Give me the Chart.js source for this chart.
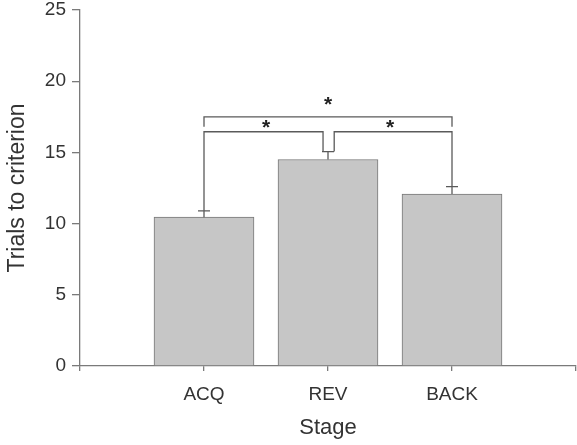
<!DOCTYPE html>
<html>
<head>
<meta charset="utf-8">
<script src="https://cdn.jsdelivr.net/npm/chart.js@4"></script>
<style>
  html, body { margin: 0; padding: 0; background: #fff; }
  #wrap { width: 577px; height: 445px; }
</style>
</head>
<body>
<div id="wrap"><canvas id="stageChart" width="577" height="445"></canvas></div>
<script>
// ── Data ──────────────────────────────────────
const categories = ['ACQ', 'REV', 'BACK'];
const means      = [10.45, 14.5, 12.08];
const sems       = [0.44, 0.56, 0.52];
const yTicks     = [0, 5, 10, 15, 20, 25];

// significance brackets: from/to category position, bar level, leg ends
const brackets = [
  { from: 1,    to: 3,    level: 17.5,  leftEnd: 16.8, rightEnd: 16.8 },
  { from: 1,    to: 1.96, level: 16.45, leftEnd: 'sem', rightEnd: 'sem' },
  { from: 2.05, to: 3,    level: 16.45, leftEnd: 'sem', rightEnd: 'sem' },
];
const stars = [
  { x: 2,   y: 18.55 },
  { x: 1.5, y: 16.95 },
  { x: 2.5, y: 16.95 },
];

// ── Style ─────────────────────────────────────
const AXIS_COLOR = '#7a7a7a';
const TEXT_COLOR = '#333333';
const LINE_COLOR = '#5a5a5a';
const FONT       = "'Liberation Sans', Arial, Helvetica, sans-serif";

// top of error bar for the category nearest to a position
function semTop(pos) {
  const i = Math.round(pos) - 1;
  return means[i] + sems[i];
}

const annotations = {
  id: 'annotations',
  afterDatasetsDraw(chart) {
    const { ctx, scales: { x, y } } = chart;
    ctx.save();
    ctx.strokeStyle = LINE_COLOR;
    ctx.lineWidth = 1.3;

    // error bars
    means.forEach((m, i) => {
      const px  = x.getPixelForValue(i + 1);
      const top = y.getPixelForValue(m + sems[i]);
      ctx.beginPath();
      ctx.moveTo(px, y.getPixelForValue(m));
      ctx.lineTo(px, top);
      ctx.moveTo(px - 6, top);
      ctx.lineTo(px + 6, top);
      ctx.stroke();
    });

    // brackets
    brackets.forEach(b => {
      const x1 = x.getPixelForValue(b.from);
      const x2 = x.getPixelForValue(b.to);
      const yl = y.getPixelForValue(b.level);
      const y1 = y.getPixelForValue(b.leftEnd === 'sem' ? semTop(b.from) : b.leftEnd);
      const y2 = y.getPixelForValue(b.rightEnd === 'sem' ? semTop(b.to) : b.rightEnd);
      ctx.beginPath();
      ctx.moveTo(x1, y1);
      ctx.lineTo(x1, yl);
      ctx.lineTo(x2, yl);
      ctx.lineTo(x2, y2);
      ctx.stroke();
    });

    // stars
    ctx.fillStyle = '#222';
    ctx.font = 'bold 21px ' + FONT;
    ctx.textAlign = 'center';
    ctx.textBaseline = 'alphabetic';
    stars.forEach(s => {
      ctx.fillText('*', x.getPixelForValue(s.x), y.getPixelForValue(s.y) + 9);
    });
    ctx.restore();
  }
};

new Chart(document.getElementById('stageChart').getContext('2d'), {
  type: 'bar',
  data: {
    datasets: [{
      data:            means.map((m, i) => ({ x: i + 1, y: m })),
      backgroundColor: '#c6c6c6',
      borderColor:     '#777',
      borderWidth:     1,
      barThickness:    100,
    }]
  },
  options: {
    responsive: false,
    animation:  false,
    layout:     { padding: { top: 10, right: 1, left: 0, bottom: 0 } },
    plugins:    { legend: { display: false }, tooltip: { enabled: false } },
    scales: {
      x: {
        type:   'linear',
        min:    0,
        max:    4,
        offset: false,
        afterFit: s => { s.height = 79; s.paddingLeft = 0; s.paddingRight = 0; },
        afterBuildTicks: s => { s.ticks = [0, 1, 2, 3, 4].map(v => ({ value: v })); },
        border: { color: AXIS_COLOR, width: 1.3 },
        grid:   { drawOnChartArea: false, tickLength: 5, color: AXIS_COLOR, lineWidth: 1.3, offset: false },
        ticks:  {
          color:    TEXT_COLOR,
          font:     { family: FONT, size: 19 },
          padding:  12,
          maxRotation: 0,
          autoSkip: false,
          callback: v => categories[v - 1] || ''
        },
        title: {
          display: true,
          text:    'Stage',
          color:   TEXT_COLOR,
          font:    { family: FONT, size: 22 },
          padding: { top: 0, bottom: 4 }
        }
      },
      y: {
        min: 0,
        max: 25,
        afterFit: s => { s.width = 80; s.paddingTop = 0; s.paddingBottom = 0; },
        afterBuildTicks: s => { s.ticks = yTicks.map(v => ({ value: v })); },
        border: { color: AXIS_COLOR, width: 1.3 },
        grid:   { drawOnChartArea: false, tickLength: 8, color: AXIS_COLOR, lineWidth: 1.3 },
        ticks:  {
          color:   TEXT_COLOR,
          font:    { family: FONT, size: 19 },
          padding: 6
        },
        title: {
          display: true,
          text:    'Trials to criterion',
          color:   TEXT_COLOR,
          font:    { family: FONT, size: 23 },
          padding: { top: 4, bottom: 0 }
        }
      }
    }
  },
  plugins: [annotations]
});
</script>
</body>
</html>
